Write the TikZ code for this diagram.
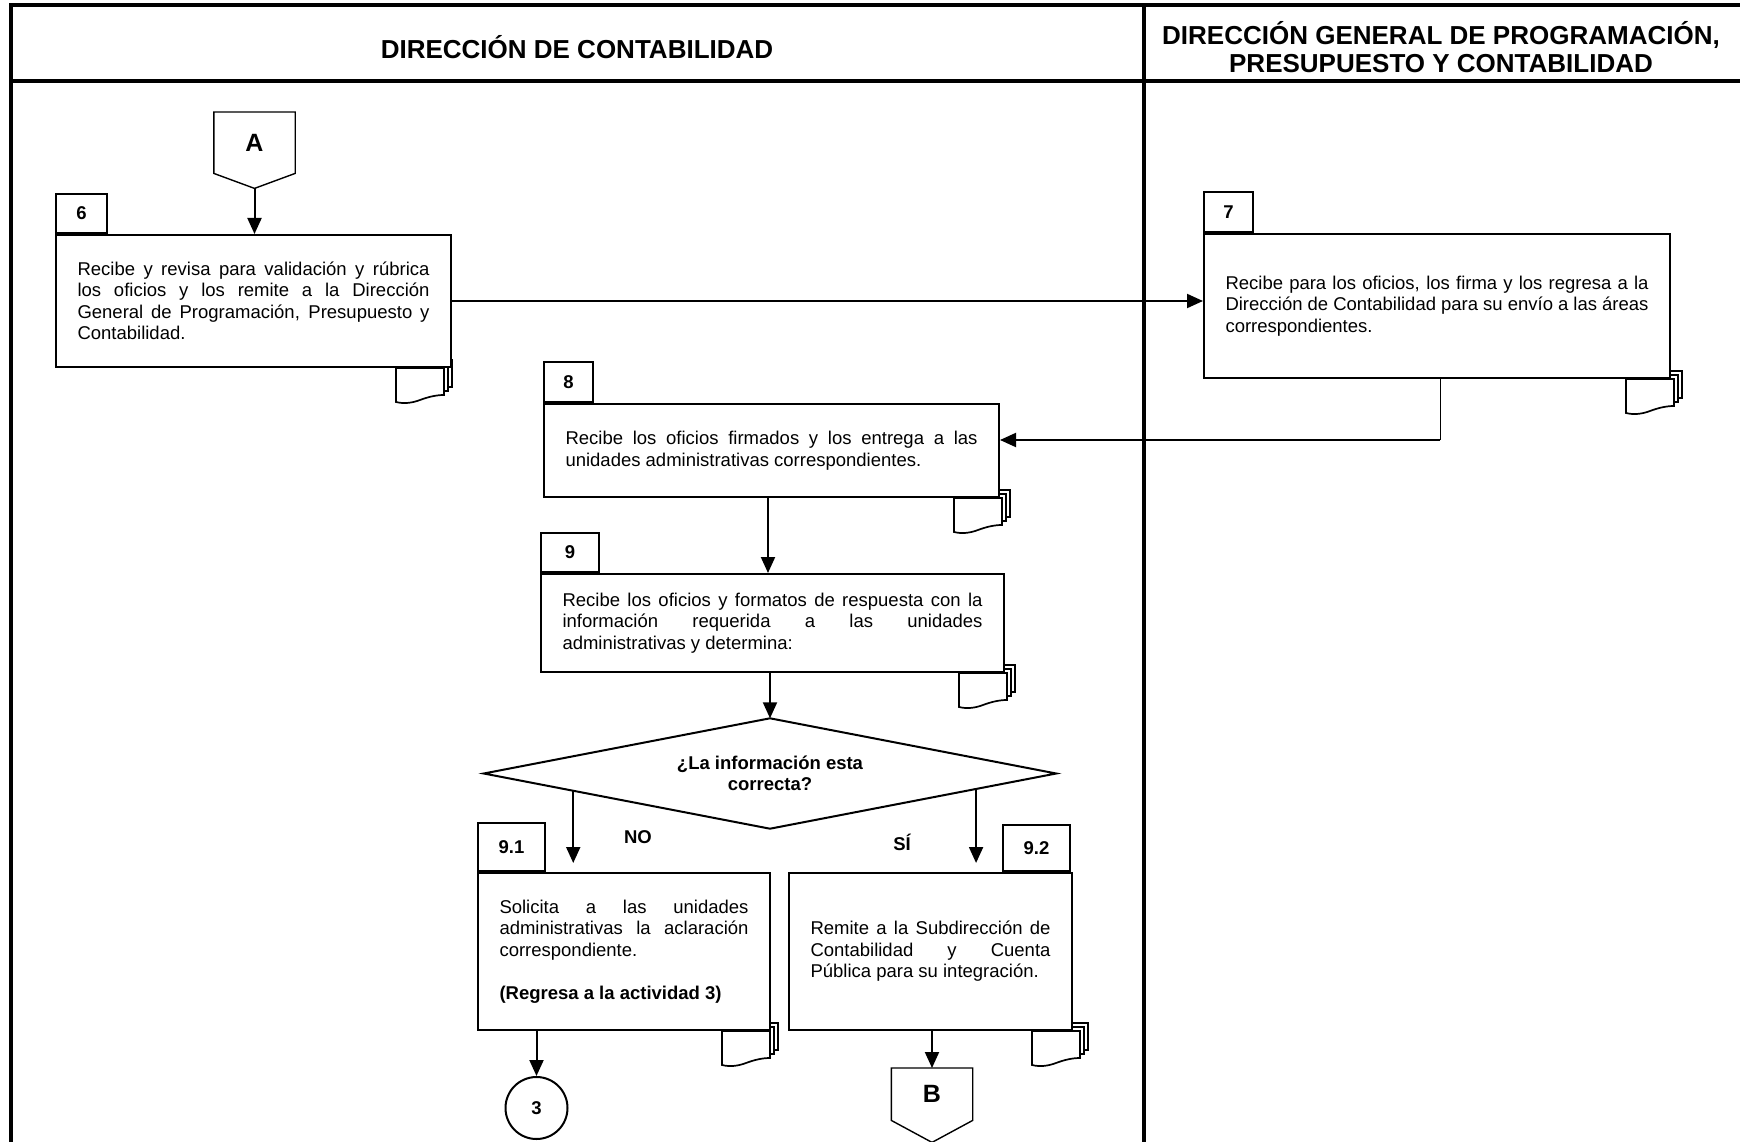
\documentclass[tikz,border=0pt]{standalone}
\usepackage{fontspec}
\setmainfont{Liberation Sans}
\usetikzlibrary{arrows.meta,calc}
\pgfdeclarelayer{bg}
\pgfsetlayers{bg,main}
\setlength{\parindent}{0pt}
\hyphenpenalty=10000
\exhyphenpenalty=10000

\begin{document}
\begin{tikzpicture}[x=1pt,y=-1pt,
  frame/.style={line width=3.4pt},
  bodyfont/.style={font=\fontsize{18.5}{21.5}\selectfont},
  boldfont/.style={font=\fontsize{18.5}{21.5}\selectfont\bfseries},
  stepbox/.style={draw, fill=white, line width=2pt, bodyfont, align=justify,
    inner xsep=21.5pt, inner ysep=0pt, anchor=north west},
  tab/.style={draw, fill=white, line width=2pt, boldfont, inner sep=0pt, anchor=south west},
  arr/.style={line width=2pt, -{Triangle[length=16pt,width=14pt]}},
  conn/.style={line width=1.4pt, line join=miter},
  page/.style={draw, fill=white, line width=1.7pt, line join=miter},
  docs/.pic={
    \foreach \o in {8,4,0}{
      \path[page] (-48+\o,-\o) -- (-48+\o,34-\o)
        .. controls (-40+\o,36-\o) and (-32+\o,35-\o) .. (-24+\o,32-\o)
        .. controls (-16+\o,29-\o) and (-8+\o,27-\o) .. (\o,27-\o)
        -- (\o,-\o) -- cycle;
    }
  }
]
\useasboundingbox (0,0) rectangle (1740,1142);

% swimlane frame
\draw[frame] (1740,5) -- (11,5) -- (11,1142);
\draw[frame] (11,81) -- (1740,81);
\draw[frame] (1144,5) -- (1144,1142);

\node[font=\fontsize{26}{27.5}\selectfont\bfseries] (h1) at (577,47) {DIRECCIÓN DE CONTABILIDAD};
\node[font=\fontsize{26}{27.5}\selectfont\bfseries, align=center] (h2) at (1441,47)
  {DIRECCIÓN GENERAL DE PROGRAMACIÓN,\\PRESUPUESTO Y CONTABILIDAD};

% off-page connector A
\node[minimum width=81pt, minimum height=61pt, anchor=north, inner sep=0pt,
      font=\fontsize{25}{25}\selectfont\bfseries] (A) at (254.5,112) {A};
\coordinate (Atip) at ($(A.south)+(0,15)$);
\draw[conn] (A.south west) -- (A.north west) -- (A.north east) -- (A.south east) -- (Atip) -- cycle;

% step 6
\node[stepbox, minimum width=395pt, minimum height=132pt, text width=352pt] (b6) at (55,234)
  {Recibe y revisa para validación y rúbrica\linebreak los oficios y los remite a la Dirección\linebreak General de Programación, Presupuesto y\linebreak Contabilidad.};
\node[tab, minimum width=51pt, minimum height=39pt] (t6) at (b6.north west) {6};

% step 7
\node[stepbox, minimum width=466pt, minimum height=144pt, text width=423pt] (b7) at (1203,233)
  {Recibe para los oficios, los firma y los regresa a la\linebreak Dirección de Contabilidad para su envío a las áreas\linebreak correspondientes.};
\node[tab, minimum width=49pt, minimum height=40pt] (t7) at (b7.north west) {7};

% step 8
\node[stepbox, minimum width=455pt, minimum height=93pt, text width=412pt] (b8) at (543,403)
  {Recibe los oficios firmados y los entrega a las\linebreak unidades administrativas correspondientes.};
\node[tab, minimum width=49pt, minimum height=40pt] (t8) at (b8.north west) {8};

% step 9
\node[stepbox, minimum width=463pt, minimum height=98pt, text width=420pt] (b9) at (540,573)
  {Recibe los oficios y formatos de respuesta con la\linebreak información requerida a las unidades\linebreak administrativas y determina:};
\node[tab, minimum width=58pt, minimum height=39pt] (t9) at (b9.north west) {9};

% decision
\node[boldfont, align=center, minimum width=572pt, minimum height=110pt, inner sep=0pt] (dia) at (770,773.5)
  {¿La información esta\\correcta?};
\draw[line width=2pt, line join=miter] (dia.north) -- (dia.east) -- (dia.south) -- (dia.west) -- cycle;

% step 9.1
\node[stepbox, minimum width=292pt, minimum height=157pt, text width=249pt] (b91) at (477,872)
  {Solicita a las unidades\linebreak administrativas la aclaración\linebreak correspondiente.\\[21.5pt]\textbf{(Regresa a la actividad 3)}};
\node[tab, minimum width=67pt, minimum height=48pt] (t91) at (b91.north west) {9.1};

% step 9.2
\node[stepbox, minimum width=283pt, minimum height=157pt, text width=240pt] (b92) at (788,872)
  {Remite a la Subdirección de\linebreak Contabilidad y Cuenta\linebreak Pública para su integración.};
\node[tab, anchor=south east, minimum width=67pt, minimum height=46pt] (t92) at ($(b92.north east)+(-2,0)$) {9.2};

% connector 3
\node[draw, circle, line width=2pt, minimum size=62pt, inner sep=0pt, boldfont] (c3) at (536.5,1108) {3};

% off-page connector B
\node[minimum width=81pt, minimum height=52pt, anchor=north, inner sep=0pt,
      font=\fontsize{25}{25}\selectfont\bfseries] (B) at (932,1068) {B};
\coordinate (Btip) at ($(B.south)+(0,22)$);
\draw[conn] (B.south west) -- (B.north west) -- (B.north east) -- (B.south east) -- (Btip) -- cycle;

% document symbols under the steps
\begin{pgfonlayer}{bg}
  \pic at ($(b6.south east)+(-8,0)$) {docs};
  \pic at ($(b7.south east)+(3,0)$) {docs};
  \pic at ($(b8.south east)+(2,0)$) {docs};
  \pic at ($(b9.south east)+(2,0)$) {docs};
  \pic at ($(b91.south east)+(-1,0)$) {docs};
  \pic at ($(b92.south east)+(7,0)$) {docs};
\end{pgfonlayer}

% flow
\draw[arr] (Atip) -- (Atip |- b6.north);
\draw[arr] (b6.east) -- (b6.east -| b7.west);
\coordinate (bend) at (1440,440);
\draw[line width=1pt] (b7.south -| bend) -- (bend);
\draw[arr] (bend) -- (b8.east |- bend);
\draw[arr] (b8.south -| 768,0) -- (b9.north -| 768,0);
\draw[arr] (b9.south -| dia.north) -- (dia.north);

\coordinate (noS) at ($(dia.west)!0.3125!(dia.south)$);
\coordinate (siS) at ($(dia.south)!0.72!(dia.east)$);
\coordinate (noE) at ($(noS |- b91.north)+(0,-9)$);
\coordinate (siE) at ($(siS |- b92.north)+(0,-9)$);
\draw[arr] (noS) -- (noE);
\draw[arr] (siS) -- (siE);
\node[boldfont] (no) at (638,837) {NO};
\node[boldfont] (si) at (902,842) {SÍ};

\draw[arr] (b91.south -| c3.north) -- (c3.north);
\draw[arr] (b92.south -| B.north) -- (B.north);
\end{tikzpicture}
\end{document}
